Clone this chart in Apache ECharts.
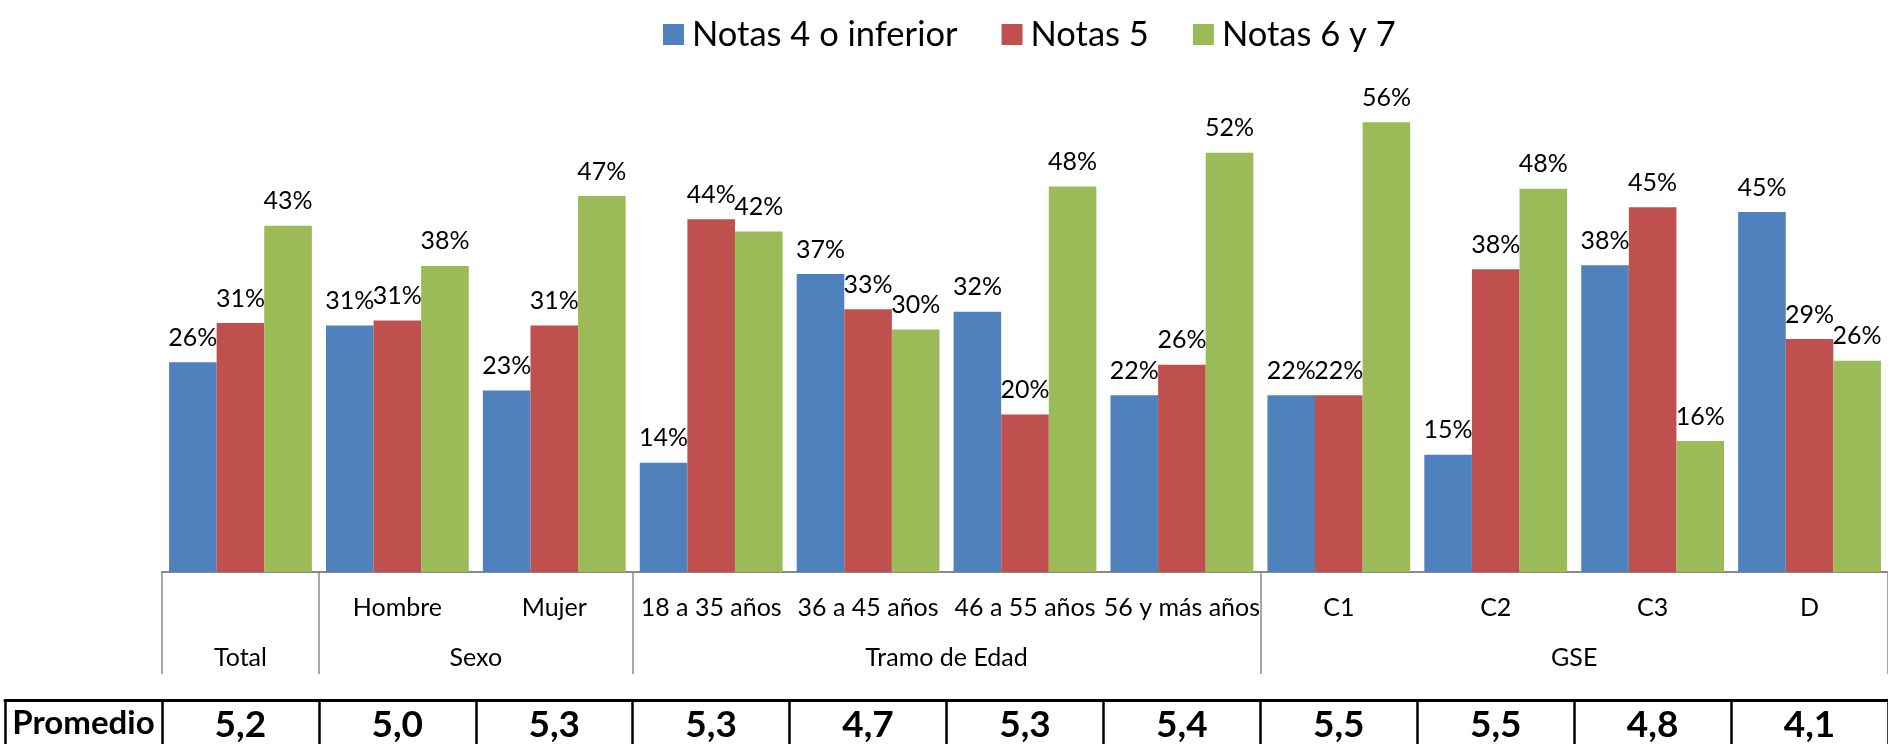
<!DOCTYPE html>
<html>
<head>
<meta charset="utf-8">
<script src="https://cdn.jsdelivr.net/npm/echarts@6/dist/echarts.min.js"></script>
<style>
	html, body { margin: 0; padding: 0; background: #fff; }
	#chart { width: 1888px; height: 744px; }
</style>
</head>
<body>
<div id="chart"></div>
<script>
// categorías del eje (Total no lleva etiqueta de primer nivel)
const categories = ["", "Hombre", "Mujer", "18 a 35 años", "36 a 45 años", "46 a 55 años", "56 y más años", "C1", "C2", "C3", "D"];
const groupNames = ["Total", "Sexo", "Tramo de Edad", "GSE"];
const groupBounds = [0, 1, 3, 7, 11]; // límites de cada grupo en índices de categoría

const notas4 = [26.1, 30.7, 22.6, 13.6, 37.1, 32.4, 22.0, 22.0, 14.6, 38.2, 44.8];
const notas5 = [31.0, 31.3, 30.7, 43.9, 32.7, 19.6, 25.8, 22.0, 37.7, 45.4, 29.0];
const notas67 = [43.1, 38.1, 46.8, 42.4, 30.2, 48.0, 52.2, 56.0, 47.7, 16.3, 26.3];

const promedio = [5.2, 5.0, 5.3, 5.3, 4.7, 5.3, 5.4, 5.5, 5.5, 4.8, 4.1];

const FONT = "Lato";

const groupCenters = groupNames.map((n, i) => (groupBounds[i] + groupBounds[i + 1]) / 2);

function barSeries(name, data) {
	return {
		name: name,
		type: "bar",
		data: data,
		barGap: "0%",
		barCategoryGap: "9%",
		label: {
			show: true,
			position: "top",
			distance: 12,
			fontFamily: FONT,
			fontSize: 25,
			color: "#000",
			formatter: (p) => Math.round(p.value) + "%",
		},
	};
}

const chart = echarts.init(document.getElementById("chart"));
const option = {
	animation: false,
	color: ["#4F81BD", "#C0504D", "#9BBB59"],
	legend: {
		left: 658,
		top: 12,
		icon: "rect",
		itemWidth: 21,
		itemHeight: 21,
		itemGap: 44,
		textStyle: { fontFamily: FONT, fontSize: 34.5, color: "#000", padding: [0, 0, 0, 3] },
		data: ["Notas 4 o inferior", "Notas 5", "Notas 6 y 7"],
	},
	grid: [
		{ left: 162, right: 0, top: 90, bottom: 172 },
		// fila de promedios
		{ left: 5, right: 0, top: 690, bottom: 41 },
	],
	xAxis: [
		{
			type: "category",
			gridIndex: 0,
			data: categories,
			position: "bottom",
			axisLine: { lineStyle: { color: "#898989", width: 2 } },
			axisTick: { show: false },
			axisLabel: { interval: 0, margin: 23, fontFamily: FONT, fontSize: 25, color: "#000" },
		},
		{
			type: "value",
			gridIndex: 0,
			min: 0,
			max: 11,
			position: "bottom",
			splitLine: { show: false },
			axisLine: { show: false },
			axisTick: {
				show: true,
				customValues: groupBounds,
				length: 102,
				lineStyle: { color: "#898989", width: 1.5 },
			},
			axisLabel: {
				customValues: groupCenters,
				margin: 73,
				fontFamily: FONT,
				fontSize: 25,
				color: "#000",
				formatter: (v) => groupNames[groupCenters.indexOf(v)] || "",
			},
		},
		{
			type: "category",
			gridIndex: 1,
			data: ["Promedio"].concat(promedio.map((v) => v.toFixed(1).replace(".", ","))),
			position: "bottom",
			axisLine: { lineStyle: { color: "#000", width: 3 } },
			axisTick: { show: true, interval: 0, length: 45, lineStyle: { color: "#000", width: 2.5 } },
			axisLabel: {
				interval: 0,
				margin: 7,
				fontFamily: FONT,
				fontWeight: "bold",
				fontSize: 37,
				color: "#000",
				formatter: (v) => (v === "Promedio" ? "{p|" + v + "}" : v),
				rich: { p: { fontFamily: FONT, fontWeight: "bold", fontSize: 33, color: "#000" } },
			},
		},
	],
	yAxis: [
		{ type: "value", gridIndex: 0, min: 0, max: 60, show: false },
		{ type: "value", gridIndex: 1, show: false },
	],
	series: [barSeries("Notas 4 o inferior", notas4), barSeries("Notas 5", notas5), barSeries("Notas 6 y 7", notas67)],
};
chart.setOption(option);
</script>
</body>
</html>
